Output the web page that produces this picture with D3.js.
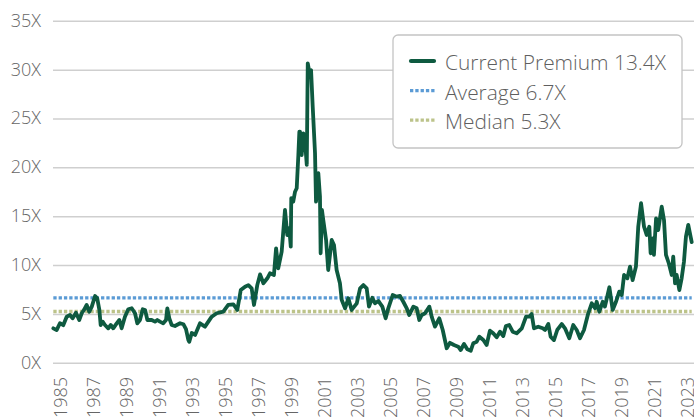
<!DOCTYPE html>
<html>
<head>
<meta charset="utf-8">
<script src="https://cdnjs.cloudflare.com/ajax/libs/d3/7.8.5/d3.min.js"></script>
<style>
  html, body { margin: 0; padding: 0; background: #fff; }
  svg { display: block; font-family: "Open Sans", "Noto Sans", sans-serif; }
</style>
</head>
<body>
<svg id="chart"></svg>
<script>
// colors
const premiumColor = '#0e5a40';
const averageColor = '#5b9bd5';
const medianColor = '#bcc38a';
const gridColor = '#cfcfcf';
const labelColor = '#666666';

// window constants
const width = 694;
const height = 418;

// data (decimal year, premium multiple)
const years = [
  1985.02, 1985.22, 1985.42, 1985.62, 1985.83, 1986.03, 1986.19, 1986.39, 1986.59, 1986.74,
  1986.88, 1987.04, 1987.2, 1987.35, 1987.55, 1987.68, 1987.81, 1987.89, 1988.01, 1988.15,
  1988.35, 1988.5, 1988.65, 1988.86, 1989.02, 1989.16, 1989.36, 1989.56, 1989.77, 1989.97,
  1990.11, 1990.27, 1990.44, 1990.58, 1990.72, 1990.98, 1991.18, 1991.32, 1991.48, 1991.68,
  1991.85, 1991.93, 1992.05, 1992.19, 1992.39, 1992.7, 1992.9, 1993.06, 1993.2, 1993.26,
  1993.41, 1993.61, 1993.91, 1994.21, 1994.62, 1994.92, 1995.32, 1995.62, 1995.93, 1996.17,
  1996.38, 1996.64, 1996.84, 1997.04, 1997.18, 1997.38, 1997.55, 1997.75, 1997.99, 1998.15,
  1998.39, 1998.52, 1998.65, 1998.86, 1999.06, 1999.2, 1999.32, 1999.41, 1999.44, 1999.56,
  1999.67, 1999.77, 1999.87, 1999.93, 1999.97, 2000.07, 2000.17, 2000.27, 2000.38, 2000.44,
  2000.53, 2000.64, 2000.74, 2000.88, 2000.94, 2001.08, 2001.18, 2001.22, 2001.3, 2001.38,
  2001.55, 2001.68, 2001.89, 2002.03, 2002.19, 2002.39, 2002.5, 2002.7, 2002.9, 2003.1,
  2003.41, 2003.61, 2003.81, 2004.01, 2004.15, 2004.35, 2004.52, 2004.72, 2004.82, 2004.96,
  2005.16, 2005.32, 2005.59, 2005.83, 2006.03, 2006.23, 2006.44, 2006.59, 2006.84, 2007.04,
  2007.2, 2007.35, 2007.55, 2007.81, 2007.95, 2008.15, 2008.41, 2008.62, 2008.86, 2009.06,
  2009.3, 2009.56, 2009.71, 2009.91, 2010.11, 2010.32, 2010.47, 2010.68, 2010.84, 2011.08,
  2011.28, 2011.48, 2011.68, 2011.89, 2012.09, 2012.29, 2012.45, 2012.65, 2012.86, 2013.1,
  2013.41, 2013.67, 2013.87, 2014.01, 2014.15, 2014.41, 2014.68, 2014.82, 2015.02, 2015.16,
  2015.36, 2015.56, 2015.83, 2016.03, 2016.29, 2016.53, 2016.74, 2016.94, 2017.18, 2017.44,
  2017.65, 2017.85, 2017.95, 2018.11, 2018.32, 2018.45, 2018.72, 2018.92, 2019.12, 2019.32,
  2019.47, 2019.61, 2019.81, 2019.97, 2020.13, 2020.33, 2020.47, 2020.64, 2020.82, 2020.98,
  2021.14, 2021.22, 2021.35, 2021.42, 2021.55, 2021.68, 2021.89, 2022.03, 2022.15, 2022.32,
  2022.5, 2022.59, 2022.7, 2022.8, 2022.96, 2023.1, 2023.24, 2023.36, 2023.5, 2023.71
];
const premium = [
  3.58, 3.4, 4.1, 3.9, 4.77, 4.94, 4.6, 5.18, 4.43, 5.12,
  5.46, 5.97, 5.28, 5.8, 6.89, 6.65, 5.46, 3.92, 4.26, 3.92,
  3.58, 3.92, 3.58, 4.09, 4.43, 3.58, 4.77, 5.53, 5.63, 5.12,
  4.09, 4.43, 5.53, 5.46, 4.43, 4.43, 4.26, 4.43, 4.26, 4.09,
  4.43, 5.63, 4.6, 3.92, 3.82, 4.1, 4.0, 3.5, 2.4, 2.2,
  3.1, 2.9, 4.09, 3.75, 4.77, 5.12, 5.28, 5.97, 6.04, 5.46,
  7.5, 7.84, 8.0, 7.67, 5.97, 8.0, 9.1, 8.19, 8.7, 9.21,
  9.04, 11.77, 9.72, 11.43, 15.69, 13.13, 13.82, 11.94, 16.89, 16.54,
  17.56, 17.91, 21.3, 23.7, 23.7, 21.3, 23.54, 22.85, 20.3, 30.7,
  29.85, 30.0, 26.26, 21.5, 16.54, 19.45, 17.05, 11.26, 15.69, 14.67,
  12.62, 9.55, 12.62, 12.1, 9.55, 8.19, 6.48, 5.63, 6.65, 5.46,
  6.14, 7.67, 8.0, 7.67, 5.8, 6.7, 6.14, 6.38, 6.14, 5.8,
  4.6, 5.63, 6.99, 6.82, 6.89, 6.3, 5.63, 4.94, 5.8, 5.63,
  4.43, 4.94, 5.12, 5.8, 4.77, 3.75, 4.6, 3.41, 1.54, 2.1,
  1.87, 1.7, 1.36, 1.98, 1.43, 1.29, 2.05, 2.21, 2.72, 2.38,
  1.87, 3.34, 3.07, 2.66, 3.23, 2.79, 3.82, 3.92, 3.23, 3.07,
  3.58, 4.77, 4.77, 5.05, 3.58, 3.75, 3.58, 3.41, 4.02, 2.72,
  2.38, 3.41, 4.02, 3.58, 2.56, 3.92, 3.41, 2.56, 3.41, 5.12,
  6.14, 5.63, 6.3, 5.28, 6.3, 5.8, 7.78, 5.46, 6.3, 7.33,
  6.99, 9.04, 8.7, 9.89, 8.52, 9.89, 13.98, 16.38, 13.98, 13.13,
  13.98, 11.26, 12.79, 11.09, 14.84, 13.64, 16.03, 14.67, 11.09, 10.24,
  9.04, 10.92, 8.19, 9.04, 7.5, 8.7, 10.4, 12.96, 14.16, 12.4
];
const averageValue = 6.7;
const medianValue = 5.3;

const yTicks = [0, 5, 10, 15, 20, 25, 30, 35];
const xTickYears = d3.range(1985, 2024, 2);
const legendLabels = ['Current Premium 13.4X', 'Average 6.7X', 'Median 5.3X'];

const margin = { top: 21.3, right: 0, bottom: 54.7, left: 53 };

const x = d3.scaleLinear()
    .domain([1985, 2024])
    .range([margin.left, margin.left + 39 * 16.5]);

const y = d3.scaleLinear()
    .domain([0, 35])
    .range([height - margin.bottom, margin.top]);

const svg = d3.select('#chart')
    .attr('width', width)
    .attr('height', height);

// gridlines
svg.append('g')
    .attr('class', 'grid')
  .selectAll('line')
  .data(yTicks)
  .enter()
  .append('line')
    .attr('x1', margin.left)
    .attr('x2', width)
    .attr('y1', d => y(d))
    .attr('y2', d => y(d))
    .attr('stroke', gridColor)
    .attr('stroke-width', 1.5);

// y labels
svg.append('g')
    .attr('class', 'y-labels')
  .selectAll('text')
  .data(yTicks)
  .enter()
  .append('text')
    .attr('x', 41)
    .attr('y', d => y(d))
    .attr('dy', '0.3em')
    .attr('text-anchor', 'end')
    .attr('fill', labelColor)
    .style('font-size', '18px')
    .style('font-weight', 300)
    .text(d => d + 'X');

// x labels, rotated
svg.append('g')
    .attr('class', 'x-labels')
  .selectAll('text')
  .data(xTickYears)
  .enter()
  .append('text')
    .attr('transform', d => `translate(${x(d + 0.45)},377) rotate(-90)`)
    .attr('dy', '0.35em')
    .attr('text-anchor', 'end')
    .attr('fill', labelColor)
    .style('font-size', '18px')
    .style('font-weight', 300)
    .text(d => d);

// average and median lines
const flat = [years[0], years[years.length - 1]];

svg.append('path')
    .attr('d', d3.line().x(d => x(d)).y(() => y(averageValue))(flat))
    .attr('fill', 'none')
    .attr('stroke', averageColor)
    .attr('stroke-width', 3.3)
    .attr('stroke-dasharray', '3.3,2');

svg.append('path')
    .attr('d', d3.line().x(d => x(d)).y(() => y(medianValue))(flat))
    .attr('fill', 'none')
    .attr('stroke', medianColor)
    .attr('stroke-width', 3.3)
    .attr('stroke-dasharray', '3.3,2');

// premium line
const line = d3.line()
    .x((d, i) => x(years[i]))
    .y(d => y(d));

svg.append('path')
    .attr('d', line(premium))
    .attr('fill', 'none')
    .attr('stroke', premiumColor)
    .attr('stroke-width', 3.8)
    .attr('stroke-linejoin', 'round')
    .attr('stroke-linecap', 'round');

// legend
const legend = svg.append('g').attr('class', 'legend');

legend.append('rect')
    .attr('x', 393)
    .attr('y', 35)
    .attr('width', 289)
    .attr('height', 113)
    .attr('rx', 5)
    .attr('fill', '#fff')
    .attr('stroke', '#c4c4c4')
    .attr('stroke-width', 1.3);

const legendColors = [premiumColor, averageColor, medianColor];
const legendRows = legend.selectAll('g.row')
  .data(legendLabels)
  .enter()
  .append('g')
    .attr('class', 'row')
    .attr('transform', (d, i) => `translate(0,${61 + i * 29.6})`);

legendRows.append('line')
    .attr('x1', (d, i) => i === 0 ? 411 : 410)
    .attr('x2', (d, i) => i === 0 ? 434 : 436)
    .attr('stroke', (d, i) => legendColors[i])
    .attr('stroke-width', (d, i) => i === 0 ? 4.2 : 3.3)
    .attr('stroke-linecap', (d, i) => i === 0 ? 'round' : 'butt')
    .attr('stroke-dasharray', (d, i) => i === 0 ? null : '3.3,2');

legendRows.append('text')
    .attr('x', 445)
    .attr('y', 9)
    .attr('fill', '#5f5f5f')
    .style('font-size', '20.9px')
    .style('font-weight', 300)
    .text(d => d);
</script>
</body>
</html>
